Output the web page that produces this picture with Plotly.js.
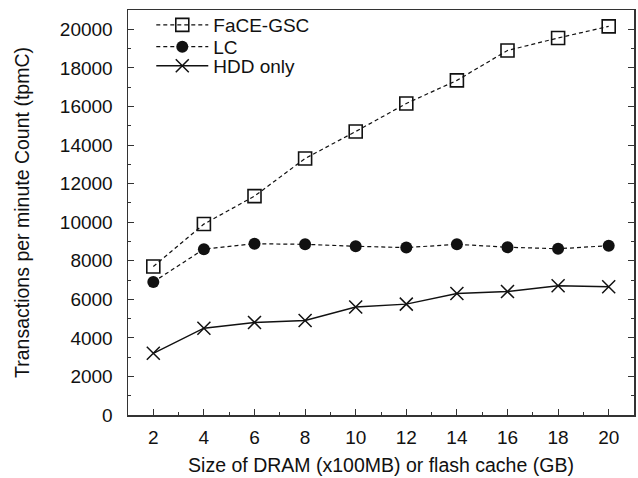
<!DOCTYPE html>
<html><head><meta charset="utf-8">
<script src="https://cdn.plot.ly/plotly-3.0.1.min.js"></script>
<style>html,body{margin:0;padding:0;background:#fff}#chart{width:638px;height:478px}</style>
</head><body><div id="chart"></div>
<script>
const sizes = [2, 4, 6, 8, 10, 12, 14, 16, 18, 20];
const faceGSC = [7700, 9900, 11350, 13300, 14700, 16150, 17350, 18900, 19550, 20150];
const lc = [6900, 8600, 8880, 8850, 8750, 8680, 8850, 8700, 8620, 8780];
const hddOnly = [3200, 4500, 4800, 4900, 5600, 5750, 6300, 6400, 6700, 6650];
const seriesNames = ['FaCE-GSC', 'LC', 'HDD only'];

const ink = '#111';
const traces = [
  {x: sizes, y: faceGSC, name: seriesNames[0], mode: 'lines+markers', legend: 'legend',
   line: {color: ink, width: 1.2, dash: '4px,3px'},
   marker: {symbol: 'square-open', size: 13, color: ink, line: {width: 1.6, color: ink}}},
  {x: sizes, y: lc, name: seriesNames[1], mode: 'lines+markers', legend: 'legend2',
   line: {color: ink, width: 1.2, dash: '4px,3px'},
   marker: {symbol: 'circle', size: 12, color: ink}},
  {x: sizes, y: hddOnly, name: seriesNames[2], mode: 'lines+markers', legend: 'legend3',
   line: {color: ink, width: 1.4},
   marker: {symbol: 'x-thin-open', size: 13, color: ink, line: {width: 1.5, color: ink}}}
];

const family = 'Liberation Sans, Arial, sans-serif';
const tickFont = {family: family, size: 19, color: '#111'};
const legFont = {family: family, size: 19, color: '#111'};
const titleFont = {family: family, size: 19.5, color: '#111'};
function leg(y) {
  return {x: 0.046, y: y, xanchor: 'left', yanchor: 'middle', bgcolor: 'rgba(0,0,0,0)',
          font: legFont, itemwidth: 52, borderwidth: 0};
}
const layout = {
  width: 638, height: 478,
  margin: {l: 128, r: 4, t: 10, b: 63},
  paper_bgcolor: '#fff', plot_bgcolor: '#fff',
  font: tickFont,
  showlegend: true,
  legend: leg(0.963), legend2: leg(0.909), legend3: leg(0.862),
  xaxis: {range: [1, 21], tickvals: sizes, ticks: 'inside', ticklen: 6, tickwidth: 1, tickcolor: '#333',
          showline: true, linecolor: '#333', linewidth: 1.5, mirror: true, showgrid: false, zeroline: false,
          minor: {dtick: 1, tick0: 1, ticks: 'inside', ticklen: 3, tickcolor: '#333', showgrid: false},
          tickfont: tickFont, ticklabelstandoff: 5,
          title: {text: 'Size of DRAM (x100MB) or flash cache (GB)', font: titleFont, standoff: 11}},
  yaxis: {range: [0, 21000], dtick: 2000, ticks: 'inside', ticklen: 6, tickwidth: 1, tickcolor: '#333',
          showline: true, linecolor: '#333', linewidth: 1.5, mirror: 'ticks', showgrid: false, zeroline: false,
          minor: {dtick: 1000, ticks: 'inside', ticklen: 3, tickcolor: '#333', showgrid: false},
          tickfont: tickFont, tickformat: 'd', ticklabelstandoff: 10,
          title: {text: 'Transactions per minute Count (tpmC)', font: titleFont, standoff: 25}}
};
Plotly.newPlot('chart', traces, layout, {displayModeBar: false, staticPlot: true});
</script></body></html>
